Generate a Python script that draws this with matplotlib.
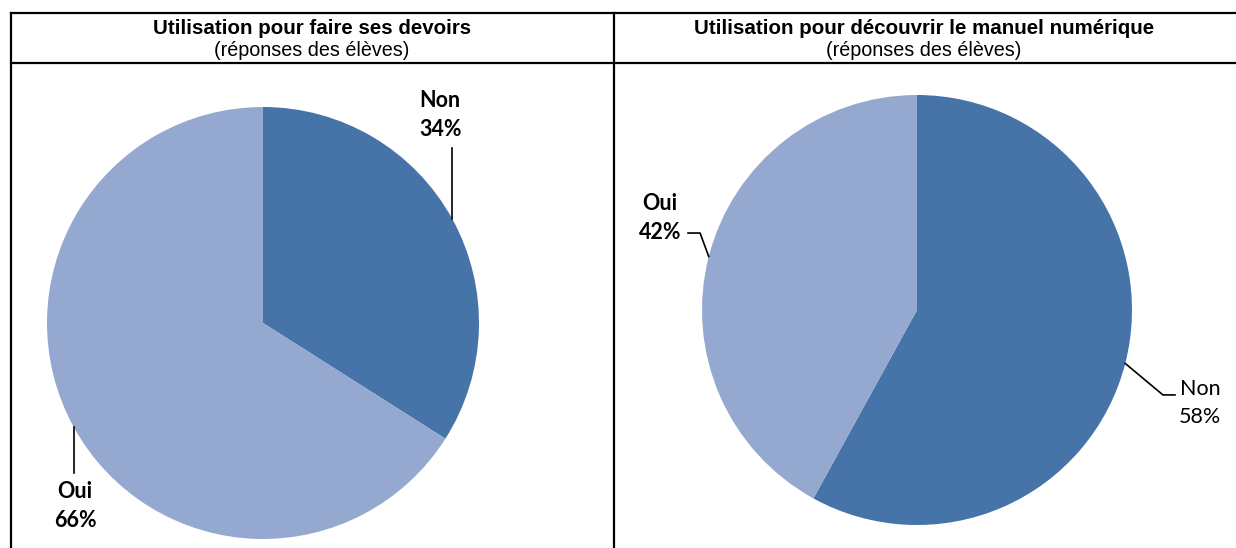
import numpy as np
import matplotlib.pyplot as plt

# --- data ---
titles = ['Utilisation pour faire ses devoirs',
          'Utilisation pour découvrir le manuel numérique']
subtitle = '(réponses des élèves)'
categories = ['Non', 'Oui']
devoirs = [34, 66]
manuel = [58, 42]

colors = ['#4674A8', '#95A9D0']

W, H = 1236, 548
fig = plt.figure(figsize=(W / 100, H / 100), dpi=100)

# frame of the table, in pixel coordinates
frame = fig.add_axes([0, 0, 1, 1])
frame.set_xlim(0, W)
frame.set_ylim(H, 0)
frame.axis('off')
lw = 1.6
frame.plot([11, W + 5], [13, 13], color='black', lw=lw)
frame.plot([11, W + 5], [63, 63], color='black', lw=lw)
frame.plot([11, 11], [13, H + 5], color='black', lw=lw)
frame.plot([614, 614], [13, H + 5], color='black', lw=lw)

for cx, title in zip([312, 924], titles):
    frame.text(cx, 28, title, ha='center', va='center', fontsize=14.8,
               fontweight='bold', family='Liberation Sans')
    frame.text(cx, 50, subtitle, ha='center', va='center', fontsize=14.2,
               family='Liberation Sans')


def pie_axes(cx, cy, r):
    ax = fig.add_axes([(cx - r) / W, (H - cy - r) / H, 2 * r / W, 2 * r / H])
    ax.axis('off')
    return ax


def mid_angles(vals):
    total = sum(vals)
    out, start = [], 90.0
    for v in vals:
        span = 360.0 * v / total
        out.append(np.radians(start - span / 2))
        start -= span
    return out


def label(ax, ang, path, text_xy, cat, val, weight):
    x0, y0 = np.cos(ang), np.sin(ang)
    xs = [x0] + [p[0] for p in path]
    ys = [y0] + [p[1] for p in path]
    ax.plot(xs, ys, color='black', lw=1.2, clip_on=False)
    ax.text(text_xy[0], text_xy[1], f'{cat}\n{val}%', ha='center',
            va='center', fontsize=15.5, fontweight=weight, family='Lato',
            linespacing=1.45, clip_on=False)


# left pie
ax1 = pie_axes(263, 323, 216)
ax1.pie(devoirs, colors=colors, startangle=90, counterclock=False, radius=1,
        wedgeprops=dict(linewidth=0))
ax1.set_xlim(-1, 1)
ax1.set_ylim(-1, 1)
ax1.set_aspect('auto')
a_non, a_oui = mid_angles(devoirs)
label(ax1, a_non, [(np.cos(a_non), 0.81)], (0.82, 0.963), categories[0], devoirs[0], 'bold')
label(ax1, a_oui, [(np.cos(a_oui), -0.694)], (-0.87, -0.847), categories[1], devoirs[1], 'bold')

# right pie
ax2 = pie_axes(917, 310, 215)
ax2.pie(manuel, colors=colors, startangle=90, counterclock=False, radius=1,
        wedgeprops=dict(linewidth=0))
ax2.set_xlim(-1, 1)
ax2.set_ylim(-1, 1)
ax2.set_aspect('auto')
b_non, b_oui = mid_angles(manuel)
label(ax2, b_oui, [(-1.009, 0.358), (-1.065, 0.358)], (-1.195, 0.428), categories[1], manuel[1], 'bold')
label(ax2, b_non, [(1.144, -0.395), (1.2, -0.395)], (1.316, -0.433), categories[0], manuel[0], 'normal')

fig.savefig('out.png', dpi=100)
